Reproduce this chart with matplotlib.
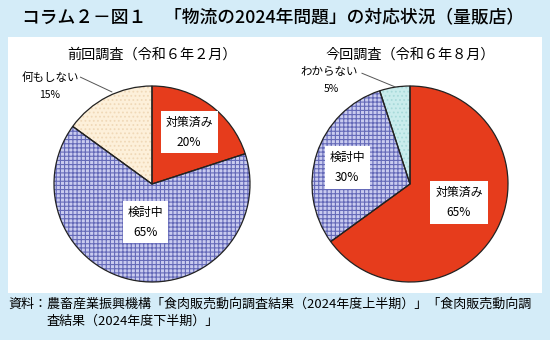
import matplotlib
matplotlib.use("Agg")
import matplotlib.pyplot as plt
from matplotlib.patches import Rectangle

plt.rcParams['font.family'] = ['Noto Sans CJK JP', 'DejaVu Sans']
plt.rcParams['hatch.linewidth'] = 0.8

W, H = 550, 340

title = "コラム２－図１　「物流の2024年問題」の対応状況（量販店）"
source_1 = "資料：農畜産業振興機構「食肉販売動向調査結果（2024年度上半期）」「食肉販売動向調"
source_2 = "査結果（2024年度下半期）」"

# 前回調査
prev_title = "前回調査（令和６年２月）"
prev_labels = ["対策済み", "検討中", "何もしない"]
prev_values = [20, 65, 15]

# 今回調査
curr_title = "今回調査（令和６年８月）"
curr_labels = ["対策済み", "検討中", "わからない"]
curr_values = [65, 30, 5]

red = "#e63c1c"
blue_face = "#c9cbef"
blue_hatch = "#6469b8"
cream = "#fdf0da"
cyan = "#c9ecec"

fig = plt.figure(figsize=(W / 100, H / 100), dpi=100)
fig.patch.set_facecolor("#d4ecf8")

# white panel
fig.add_artist(Rectangle((8 / W, 1 - 293 / H), 534 / W, 256 / H,
                         transform=fig.transFigure, facecolor="white",
                         edgecolor="none", zorder=0))

fig.text(22 / W, 1 - 18 / H, title, fontsize=12.8, va="center", ha="left",
         fontweight="medium")
fig.text(8 / W, 1 - 304 / H, source_1, fontsize=9.4, va="center", ha="left")
fig.text(47 / W, 1 - 321 / H, source_2, fontsize=9.4, va="center", ha="left")

R = 98


def draw_pie(cx, cy, values, colors, hatches, hatch_colors, sub_title):
    size = 2.2 * R
    ax = fig.add_axes([(cx - size / 2) / W, (H - cy - size / 2) / H,
                       size / W, size / H])
    # hatched fill
    wedges, _ = ax.pie(values, colors=colors, startangle=90, counterclock=False,
                       radius=1, wedgeprops=dict(linewidth=0))
    for w, h, hc in zip(wedges, hatches, hatch_colors):
        if h:
            w.set_hatch(h)
            w.set_edgecolor(hc)
    # outlines
    ax.pie(values, colors=["none"] * len(values), startangle=90,
           counterclock=False, radius=1,
           wedgeprops=dict(linewidth=0.9, edgecolor="#222222"))
    ax.set_xlim(-1.1, 1.1)
    ax.set_ylim(-1.1, 1.1)
    ax.set_aspect("equal")
    ax.axis("off")
    fig.text(cx / W, 1 - 55 / H, sub_title, fontsize=10.2, ha="center", va="center")
    return ax


box = dict(boxstyle="square,pad=0.4", facecolor="white", edgecolor="none")
kw = dict(ha="center", va="center", fontsize=8.6, linespacing=1.7, bbox=box)

ax1 = draw_pie(152, 184, prev_values, [red, blue_face, cream],
               [None, "++++", "...."], [None, blue_hatch, "#f0d9b8"], prev_title)
ax1.text(0.38, 0.53, f"{prev_labels[0]}\n{prev_values[0]}%", **kw)
ax1.text(-0.07, -0.39, f"{prev_labels[1]}\n{prev_values[1]}%", **kw)
ax1.text(-1.04, 1.09, prev_labels[2], ha="center", va="center", fontsize=8.3,
         clip_on=False)
ax1.text(-1.05, 0.91, f"{prev_values[2]}%", ha="center", va="center", fontsize=7.5,
         clip_on=False)
ax1.plot([-0.73, -0.41], [1.09, 0.94], color="#555555", lw=0.7, clip_on=False)

ax2 = draw_pie(410, 184, curr_values, [red, blue_face, cyan],
               [None, "++++", "...."], [None, blue_hatch, "#a8dada"], curr_title)
ax2.text(0.5, -0.19, f"{curr_labels[0]}\n{curr_values[0]}%", **kw)
ax2.text(-0.64, 0.17, f"{curr_labels[1]}\n{curr_values[1]}%", **kw)
ax2.text(-0.82, 1.15, curr_labels[2], ha="center", va="center", fontsize=8.3,
         clip_on=False)
ax2.text(-0.8, 0.97, f"{curr_values[2]}%", ha="center", va="center", fontsize=7.5,
         clip_on=False)
ax2.plot([-0.49, -0.15], [1.13, 0.99], color="#555555", lw=0.7, clip_on=False)

fig.savefig("out.png", dpi=100, facecolor=fig.get_facecolor())
